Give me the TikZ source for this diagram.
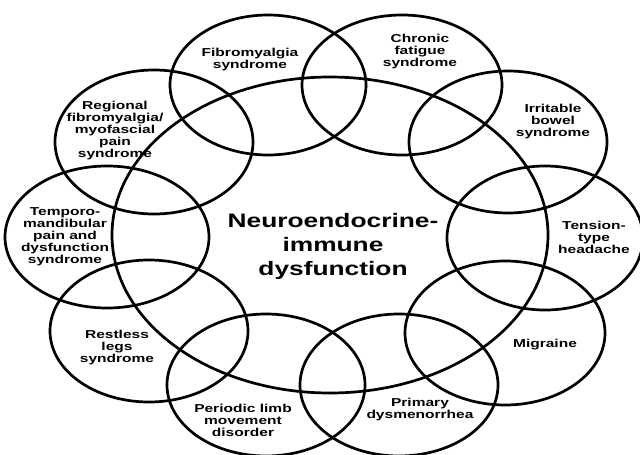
\documentclass[tikz,border=0pt]{standalone}
\usepackage{fontspec}
\newfontfamily\diagfont[FakeStretch=1.35]{Liberation Sans}

\begin{document}
\begin{tikzpicture}
[
	x=1pt, y=-1pt,
	ring/.style={line width=2.7pt},
	lbl/.style={font=\diagfont\bfseries\fontsize{11.5}{12}\selectfont, align=center, inner sep=0pt},
	hub/.style={font=\diagfont\bfseries\fontsize{19.5}{24}\selectfont, align=center, inner sep=0pt}
]
	\useasboundingbox (0,0) rectangle (640,455);

	% rings
	\draw[ring] (330,235) ellipse [x radius=218pt, y radius=158pt];
	\foreach \cx/\cy/\rx/\ry in {268/85/98/70, 402/85/100/70, 508/142/99/71, 545/238/98/72,
		505/333/100/72, 399/385/99/71, 266/385/99/71, 149/331/99/71, 107/237/102/71, 154/142/99/72}
		\draw[ring] (\cx,\cy) ellipse [x radius=\rx pt, y radius=\ry pt];

	% labels
	\node[hub] at (333,246) (nid) {Neuroendocrine-\\immune\\dysfunction};
	\node[lbl] at (250,60) (fms) {Fibromyalgia\\syndrome};
	\node[lbl] at (420,52) (cfs) {Chronic\\fatigue\\syndrome};
	\node[lbl] at (553,122) (ibs) {Irritable\\bowel\\syndrome};
	\node[lbl] at (594,237) (tth) {Tension-\\type\\headache};
	\node[lbl] at (545,345) (mig) {Migraine};
	\node[lbl] at (420,410) (pd) {Primary\\dysmenorrhea};
	\node[lbl] at (243,420) (plmd) {Periodic limb\\movement\\disorder};
	\node[lbl] at (117,348) (rls) {Restless\\legs\\syndrome};
	\node[lbl] at (65,237) (tmd) {Temporo-\\mandibular\\pain and\\dysfunction\\syndrome};
	\node[lbl] at (115,131) (mps) {Regional\\fibromyalgia/\\myofascial\\pain\\syndrome};

\end{tikzpicture}
\end{document}
